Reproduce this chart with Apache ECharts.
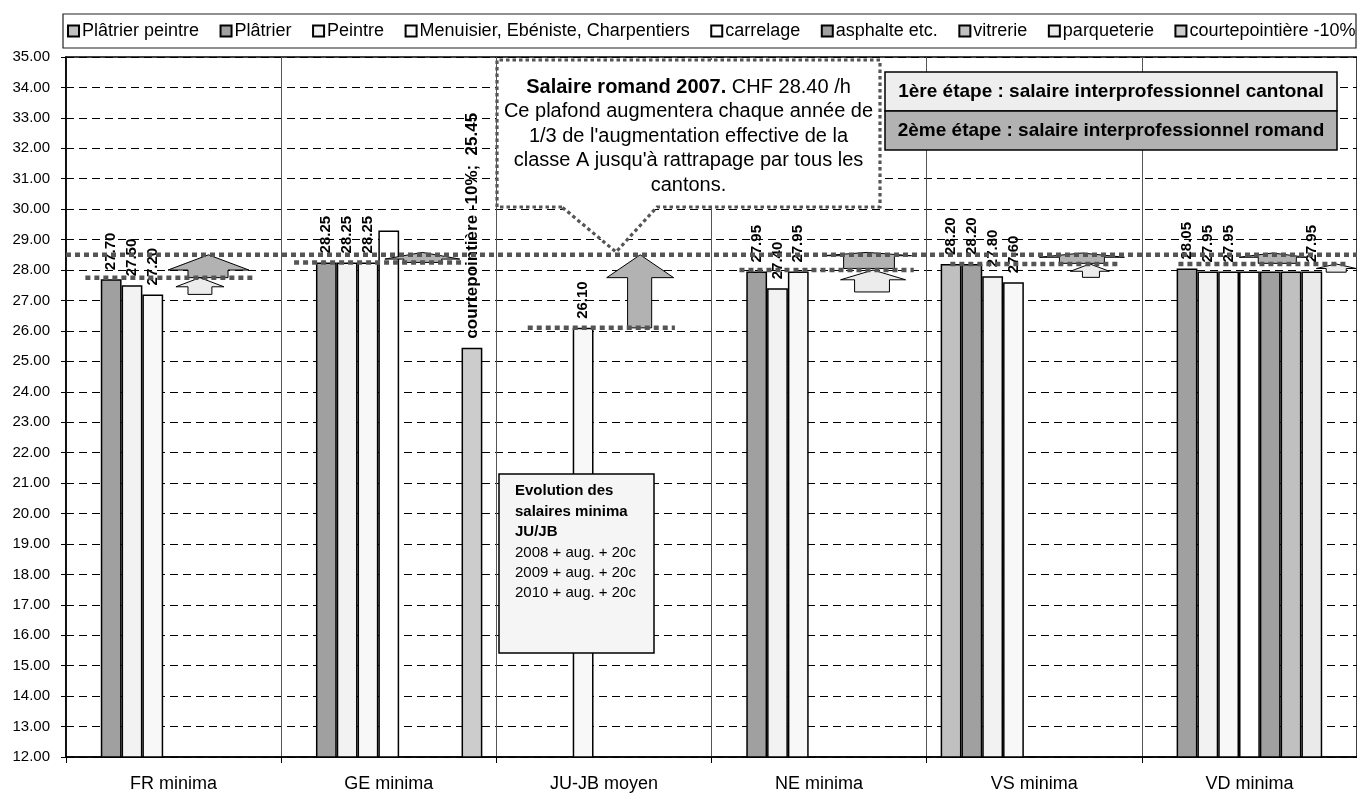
<!DOCTYPE html>
<html><head><meta charset="utf-8">
<script src="https://cdn.jsdelivr.net/npm/echarts@6/dist/echarts.min.js"></script>
<style>html,body{margin:0;padding:0;background:#fff}#c{width:1357px;height:799px}</style>
</head><body><div id="c"></div>
<script>
// ---------- data ----------
const categories = ['FR minima', 'GE minima', 'JU-JB moyen', 'NE minima', 'VS minima', 'VD minima'];
const seriesNames = ['Plâtrier peintre', 'Plâtrier', 'Peintre', 'Menuisier, Ebéniste, Charpentiers',
  'carrelage', 'asphalte etc.', 'vitrerie', 'parqueterie', 'courtepointière -10%'];
const platrierPeintre = [null, null, null, null, 28.20, null];
const platrier        = [27.70, 28.25, null, 27.95, 28.20, 28.05];
const peintre         = [27.50, 28.25, null, 27.40, 27.80, 27.95];
const menuisier       = [27.20, 28.25, 26.10, 27.95, 27.60, 27.95];
const carrelage       = [null, 29.30, null, null, null, 27.95];
const asphalte        = [null, null, null, null, null, 27.95];
const vitrerie        = [null, null, null, null, null, 27.95];
const parqueterie     = [null, null, null, null, null, 27.95];
const courtepointiere = [null, 25.45, null, null, null, null];
const yMin = 12, yMax = 35, yStep = 1;
// reference levels (CHF/h)
const romandLevel = 28.5;
const cantonalLevels = [27.75, 28.25, 26.10, 28.00, 28.20, 28.20];

// ---------- style ----------
const FONT = 'Arial, "Liberation Sans", sans-serif';
const seriesValues = [platrierPeintre, platrier, peintre, menuisier, carrelage, asphalte, vitrerie, parqueterie, courtepointiere];
const seriesColors = ['#c0c0c0', '#a0a0a0', '#f2f2f2', '#f8f8f8', '#ffffff', '#a0a0a0', '#c0c0c0', '#eaeaea', '#cccccc'];
const seriesLabelShown = [true, true, true, true, false, false, false, true, true];

const series = seriesValues.map((vals, i) => ({
  name: seriesNames[i],
  type: 'bar',
  data: vals,
  barGap: '0%',
  barCategoryGap: '13%',
  itemStyle: { color: seriesColors[i], borderColor: '#000', borderWidth: 1.5 },
  label: {
    show: seriesLabelShown[i],
    position: 'top', rotate: 90, align: 'left', verticalAlign: 'middle', distance: 9,
    fontFamily: FONT, fontWeight: 'bold', fontSize: i === 8 ? 17 : 15, color: '#000',
    formatter: p => p.value == null ? '' :
      (i === 8 ? p.seriesName + ';  ' + p.value.toFixed(2) : p.value.toFixed(2))
  },
  emphasis: { disabled: true },
  z: 2
}));

const chart = echarts.init(document.getElementById('c'), null, { renderer: 'canvas' });
chart.setOption({
  animation: false,
  backgroundColor: '#fff',
  legend: {
    left: 67, top: 22, padding: 0, itemGap: 20.5, itemWidth: 11, itemHeight: 11, icon: 'rect',
    textStyle: { fontFamily: FONT, fontSize: 18, color: '#000', lineHeight: 18, padding: [0, 0, 0, -2] },
    data: seriesNames
  },
  grid: { left: 66, right: 0, top: 57, bottom: 42, show: true, borderColor: '#000', borderWidth: 1.5 },
  xAxis: {
    type: 'category', data: categories, boundaryGap: true,
    axisLine: { lineStyle: { color: '#000', width: 1.5 } },
    axisTick: { show: true, length: 6, lineStyle: { color: '#000' } },
    splitLine: { show: true, lineStyle: { color: '#555', width: 1 } },
    axisLabel: { fontFamily: FONT, fontSize: 18, color: '#000', margin: 18 }
  },
  yAxis: {
    type: 'value', min: yMin, max: yMax, interval: yStep,
    axisLine: { show: true, lineStyle: { color: '#000', width: 1.5 } },
    axisTick: { show: true, length: 5, lineStyle: { color: '#000' } },
    splitLine: { show: true, lineStyle: { color: '#000', width: 1, type: [8, 5] } },
    axisLabel: { fontFamily: FONT, fontSize: 15, color: '#000', margin: 16, formatter: v => v.toFixed(2) }
  },
  series: series
});

// ---------- annotations (positions in category units / axis values) ----------
const levelSegments = [ // [fromCat, toCat] for each canton level line
  [0.09, 0.88], [1.06, 1.85], [2.146, 2.83], [3.13, 3.94], [4.11, 4.90], [5.17, 5.96]
];
const GREY = '#b2b2b2', LIGHT = '#ececec';
const arrows = [
  { h: [0.474, 0.850], s: [0.567, 0.753], tip: 28.5, base: 28.0, bottom: 27.75, fill: GREY },
  { h: [0.511, 0.734], s: [0.567, 0.678], tip: 27.75, base: 27.45, bottom: 27.2, fill: LIGHT },
  { h: [1.482, 1.830], s: [1.570, 1.746], tip: 28.58, base: 28.36, bottom: 28.25, fill: GREY },
  { h: [2.513, 2.824], s: [2.610, 2.722], tip: 28.5, base: 27.75, bottom: 26.1, fill: GREY },
  { h: [3.516, 3.930], s: [3.614, 3.850], tip: 28.58, base: 28.47, bottom: 28.05, fill: GREY },
  { h: [3.600, 3.902], s: [3.665, 3.827], tip: 28.0, base: 27.68, bottom: 27.28, fill: LIGHT },
  { h: [4.524, 4.919], s: [4.617, 4.826], tip: 28.56, base: 28.42, bottom: 28.22, fill: GREY },
  { h: [4.668, 4.849], s: [4.724, 4.803], tip: 28.2, base: 27.96, bottom: 27.76, fill: LIGHT },
  { h: [5.453, 5.764], s: [5.541, 5.718], tip: 28.56, base: 28.42, bottom: 28.22, fill: GREY },
  { h: [5.811, 5.996], s: [5.857, 5.950], tip: 28.2, base: 28.05, bottom: 27.93, fill: LIGHT, tipX: 5.903 }
];

function buildGraphics() {
  const c0 = chart.convertToPixel({ xAxisIndex: 0 }, 0);
  const c1 = chart.convertToPixel({ xAxisIndex: 0 }, 1);
  const band = c1 - c0, left = c0 - band / 2;
  const X = u => left + u * band;
  const Y = v => chart.convertToPixel({ yAxisIndex: 0 }, v);
  const els = [];
  const dotted = { stroke: '#555', lineWidth: 4.5, lineDash: [5, 4] };

  // legend frame
  els.push({ type: 'rect', z: 100, shape: { x: 63, y: 14, width: 1293, height: 34 },
    style: { fill: 'none', stroke: '#222', lineWidth: 1.2 } });

  // arrows
  arrows.forEach(a => {
    const tx = a.tipX != null ? a.tipX : (a.h[0] + a.h[1]) / 2;
    els.push({ type: 'polygon', z: 100, shape: { points: [
      [X(a.h[0]), Y(a.base)], [X(tx), Y(a.tip)], [X(a.h[1]), Y(a.base)],
      [X(a.s[1]), Y(a.base)], [X(a.s[1]), Y(a.bottom)], [X(a.s[0]), Y(a.bottom)], [X(a.s[0]), Y(a.base)]
    ] }, style: { fill: a.fill, stroke: '#000', lineWidth: 1 } });
  });

  // canton level dotted lines
  levelSegments.forEach((seg, i) => {
    const y = Y(cantonalLevels[i]);
    els.push({ type: 'line', z: 101, shape: { x1: X(seg[0]), y1: y, x2: X(seg[1]), y2: y }, style: dotted });
  });
  // romand level dotted line
  els.push({ type: 'line', z: 101, shape: { x1: X(0), y1: Y(romandLevel), x2: X(6), y2: Y(romandLevel) }, style: dotted });

  // callout box
  els.push({ type: 'polygon', z: 110, shape: { points: [
    [562, 207], [497, 207], [497, 60], [880, 60], [880, 207], [657, 207], [616, 252]
  ] }, style: { fill: '#fff', stroke: '#555', lineWidth: 3.2, lineDash: [3.5, 3] } });
  els.push({ type: 'text', z: 111, x: 688.5, y: 136, style: {
    text: '{b|Salaire romand 2007.} CHF 28.40 /h\nCe plafond augmentera chaque année de\n1/3 de l\'augmentation effective de la\nclasse A jusqu\'à rattrapage par tous les\ncantons.',
    rich: { b: { fontFamily: FONT, fontWeight: 'bold', fontSize: 20, lineHeight: 24.5, fill: '#000' } },
    fontFamily: FONT, fontSize: 20, lineHeight: 24.5, fill: '#000', align: 'center', verticalAlign: 'middle'
  } });

  // step boxes
  els.push({ type: 'rect', z: 110, shape: { x: 885, y: 72, width: 452, height: 39 },
    style: { fill: '#eeeeee', stroke: '#000', lineWidth: 1.5 } });
  els.push({ type: 'rect', z: 110, shape: { x: 885, y: 111, width: 452, height: 39 },
    style: { fill: '#b2b2b2', stroke: '#000', lineWidth: 1.5 } });
  els.push({ type: 'text', z: 111, x: 1111, y: 92, style: { text: '1ère étape : salaire interprofessionnel cantonal',
    fontFamily: FONT, fontWeight: 'bold', fontSize: 19, fill: '#000', align: 'center', verticalAlign: 'middle' } });
  els.push({ type: 'text', z: 111, x: 1111, y: 131, style: { text: '2ème étape : salaire interprofessionnel romand',
    fontFamily: FONT, fontWeight: 'bold', fontSize: 19, fill: '#000', align: 'center', verticalAlign: 'middle' } });

  // evolution box
  els.push({ type: 'rect', z: 110, shape: { x: 499, y: 474, width: 155, height: 179 },
    style: { fill: '#f5f5f5', stroke: '#000', lineWidth: 1.5 } });
  els.push({ type: 'text', z: 111, x: 515, y: 481, style: {
    text: '{b|Evolution des}\n{b|salaires minima}\n{b|JU/JB}\n2008 + aug. + 20c\n2009 + aug. + 20c\n2010 + aug. + 20c',
    rich: { b: { fontFamily: FONT, fontWeight: 'bold', fontSize: 15, lineHeight: 20.4, fill: '#000' } },
    fontFamily: FONT, fontSize: 15, lineHeight: 20.4, fill: '#000', align: 'left', verticalAlign: 'top'
  } });

  chart.setOption({ graphic: { elements: els } });
}
buildGraphics();
</script>
</body></html>
